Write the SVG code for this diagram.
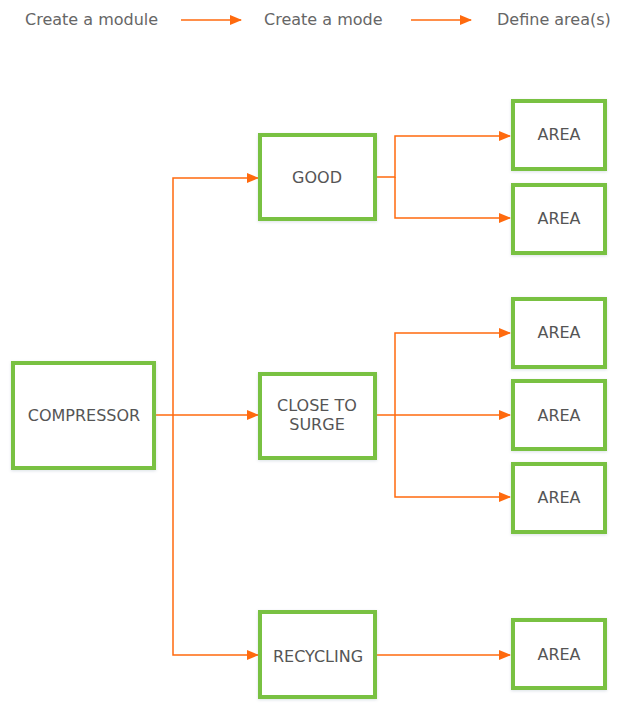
<svg xmlns="http://www.w3.org/2000/svg" width="641" height="715" viewBox="0 0 641 715">
<defs>
<marker id="ah" markerWidth="12" markerHeight="10" refX="11" refY="5" orient="auto" markerUnits="userSpaceOnUse">
<path d="M0,0 L12,5 L0,10 Z" fill="#ff6a0e"/>
</marker>
<filter id="sh" x="-10%" y="-10%" width="120%" height="120%">
<feDropShadow dx="0" dy="1" stdDeviation="1.5" flood-color="#9ab" flood-opacity="0.35"/>
</filter>
<style>
.box{fill:#fff;stroke:#79c143;stroke-width:4;filter:url(#sh)}
.t{font-family:"DejaVu Sans",Verdana,sans-serif;font-size:16px;fill:#555;text-anchor:middle}
.h{font-family:"DejaVu Sans",Verdana,sans-serif;font-size:16px;fill:#666}
.c{fill:none;stroke:#ff6a0e;stroke-width:1.5}
</style>
</defs>
<rect width="641" height="715" fill="#fff"/>
<g id="header">
<text class="h" x="25" y="25">Create a module</text>
<text class="h" x="264" y="25">Create a mode</text>
<text class="h" x="497" y="25">Define area(s)</text>
<path class="c" d="M181,20 H241" marker-end="url(#ah)"/>
<path class="c" d="M411,20 H471" marker-end="url(#ah)"/>
</g>
<g id="connectors">
<path class="c" d="M155,415 H258" marker-end="url(#ah)"/>
<path class="c" d="M173,415 V178 H258" marker-end="url(#ah)"/>
<path class="c" d="M173,415 V655 H258" marker-end="url(#ah)"/>
<path class="c" d="M377,177 H395 V136 H510" marker-end="url(#ah)"/>
<path class="c" d="M395,177 V218 H510" marker-end="url(#ah)"/>
<path class="c" d="M377,415 H510" marker-end="url(#ah)"/>
<path class="c" d="M395,415 V333 H510" marker-end="url(#ah)"/>
<path class="c" d="M395,415 V497 H510" marker-end="url(#ah)"/>
<path class="c" d="M377,655 H510" marker-end="url(#ah)"/>
</g>
<g id="compressor"><rect class="box" x="13" y="363" width="141" height="105"/><text class="t" x="84" y="421">COMPRESSOR</text></g>
<g id="good"><rect class="box" x="260" y="135" width="115" height="84"/><text class="t" x="317" y="183">GOOD</text></g>
<g id="close"><rect class="box" x="260" y="374" width="115" height="84"/><text class="t" x="317" y="411">CLOSE TO</text><text class="t" x="317" y="430">SURGE</text></g>
<g id="recycling"><rect class="box" x="260" y="612" width="115" height="85"/><text class="t" x="318" y="662">RECYCLING</text></g>
<g id="area1"><rect class="box" x="513" y="101" width="92" height="68"/><text class="t" x="559" y="140">AREA</text></g>
<g id="area2"><rect class="box" x="513" y="185" width="92" height="68"/><text class="t" x="559" y="224">AREA</text></g>
<g id="area3"><rect class="box" x="513" y="299" width="92" height="68"/><text class="t" x="559" y="338">AREA</text></g>
<g id="area4"><rect class="box" x="513" y="381" width="92" height="68"/><text class="t" x="559" y="421">AREA</text></g>
<g id="area5"><rect class="box" x="513" y="464" width="92" height="68"/><text class="t" x="559" y="503">AREA</text></g>
<g id="area6"><rect class="box" x="513" y="620" width="92" height="68"/><text class="t" x="559" y="660">AREA</text></g>
</svg>
